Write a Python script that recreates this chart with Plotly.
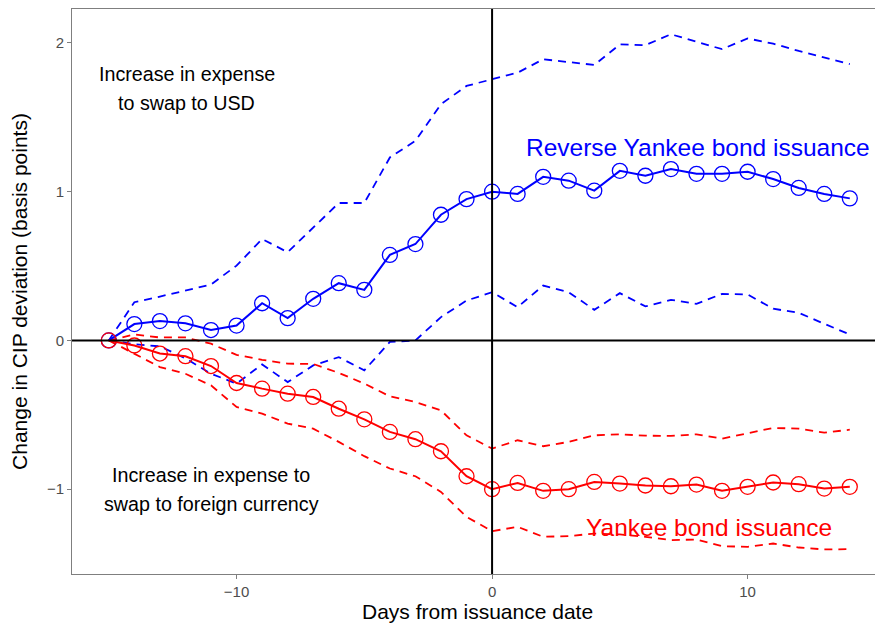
import plotly.graph_objects as go

# days relative to issuance
days = list(range(-15, 15))

# Reverse Yankee bond issuance (blue)
rev_mean = [0.00, 0.11, 0.13, 0.115, 0.07, 0.10, 0.25, 0.15, 0.28, 0.385, 0.34,
            0.575, 0.648, 0.845, 0.95, 1.00, 0.985, 1.10, 1.074, 1.007, 1.14,
            1.107, 1.152, 1.12, 1.12, 1.134, 1.085, 1.025, 0.985, 0.955]
rev_upper = [0.00, 0.257, 0.295, 0.335, 0.376, 0.503, 0.682, 0.593, 0.76, 0.924, 0.924,
             1.23, 1.342, 1.588, 1.711, 1.756, 1.80, 1.89, 1.87, 1.852, 1.99,
             1.985, 2.058, 2.009, 1.958, 2.03, 1.995, 1.946, 1.90, 1.857]
rev_lower = [0.00, -0.025, -0.04, -0.12, -0.224, -0.29, -0.161, -0.28, -0.168, -0.112, -0.201,
             -0.01, 0.00, 0.157, 0.268, 0.324, 0.224, 0.369, 0.324, 0.206, 0.318,
             0.229, 0.273, 0.246, 0.313, 0.309, 0.213, 0.186, 0.112, 0.04]

# Yankee bond issuance (red)
yan_mean = [0.00, -0.034, -0.088, -0.106, -0.172, -0.286, -0.324, -0.358, -0.38, -0.459, -0.53,
            -0.615, -0.664, -0.745, -0.913, -1.00, -0.958, -1.011, -1.00, -0.951, -0.962,
            -0.975, -0.98, -0.969, -1.011, -0.984, -0.955, -0.966, -0.996, -0.984]
yan_upper = [0.00, 0.04, 0.02, 0.02, -0.022, -0.097, -0.13, -0.156, -0.158, -0.218, -0.29,
             -0.376, -0.414, -0.47, -0.638, -0.727, -0.671, -0.711, -0.682, -0.638, -0.631,
             -0.64, -0.642, -0.631, -0.66, -0.626, -0.588, -0.593, -0.62, -0.60]
yan_lower = [0.00, -0.09, -0.179, -0.224, -0.302, -0.447, -0.492, -0.559, -0.593, -0.682, -0.778,
             -0.861, -0.913, -1.018, -1.186, -1.282, -1.253, -1.32, -1.315, -1.298, -1.304,
             -1.32, -1.342, -1.338, -1.383, -1.387, -1.365, -1.392, -1.405, -1.403]

BLUE = "#0000ff"
RED = "#ff0000"
FONT = "Liberation Sans, Arial, sans-serif"

fig = go.Figure()

# zero reference lines
fig.add_hline(y=0, line=dict(color="black", width=2))
fig.add_vline(x=0, line=dict(color="black", width=2))

for vals, color in [(rev_upper, BLUE), (rev_lower, BLUE), (yan_upper, RED), (yan_lower, RED)]:
    fig.add_trace(go.Scatter(x=days, y=vals, mode="lines",
                             line=dict(color=color, width=1.8, dash="8px,6px"),
                             showlegend=False, hoverinfo="skip"))

for vals, color in [(rev_mean, BLUE), (yan_mean, RED)]:
    fig.add_trace(go.Scatter(x=days, y=vals, mode="lines+markers",
                             line=dict(color=color, width=2),
                             marker=dict(symbol="circle-open", size=15,
                                         color=color, line=dict(width=1.3, color=color)),
                             showlegend=False))

# text annotations (one per line to get the wider line spacing)
notes = [
    (-11.95, 1.792, "Increase in expense", "black", 19.7),
    (-11.95, 1.597, "to swap to USD", "black", 19.7),
    (-11.0, -0.906, "Increase in expense to", "black", 19.7),
    (-11.0, -1.10, "swap to foreign currency", "black", 19.7),
    (8.07, 1.30, "Reverse Yankee bond issuance", BLUE, 24.5),
    (8.5, -1.255, "Yankee bond issuance", RED, 24.5),
]
for x, y, txt, col, size in notes:
    fig.add_annotation(x=x, y=y, text=txt, showarrow=False,
                       font=dict(family=FONT, size=size, color=col),
                       xanchor="center", yanchor="middle")

# x axis title as annotation so it stays inside the page
fig.add_annotation(x=0.5, y=-0.067, xref="paper", yref="paper", showarrow=False,
                   text="Days from issuance date", xanchor="center", yanchor="middle",
                   font=dict(family=FONT, size=21, color="black"))

axis_common = dict(showgrid=False, zeroline=False, showline=True, mirror=True, automargin=False,
                   linecolor="#7f7f7f", linewidth=1, ticks="outside", ticklen=4,
                   tickcolor="#7f7f7f", tickfont=dict(family=FONT, size=15, color="#4d4d4d"))

fig.update_xaxes(range=[-16.44, 15.26], tickvals=[-10, 0, 10], ticktext=["\u221210", "0", "10"],
                 **axis_common)
fig.update_yaxes(range=[-1.57, 2.228], tickvals=[-1, 0, 1, 2], ticktext=["\u22121", "0", "1", "2"],
                 title=dict(text="Change in CIP deviation (basis points)",
                            font=dict(family=FONT, size=21, color="black")),
                 **axis_common)

# page body adds 8px around the figure, so size it to fit without scrollbars
fig.update_layout(width=875, height=615, plot_bgcolor="white", paper_bgcolor="white",
                  margin=dict(l=64, r=1, t=1, b=49), font=dict(family=FONT))

fig.write_html("out.html")
